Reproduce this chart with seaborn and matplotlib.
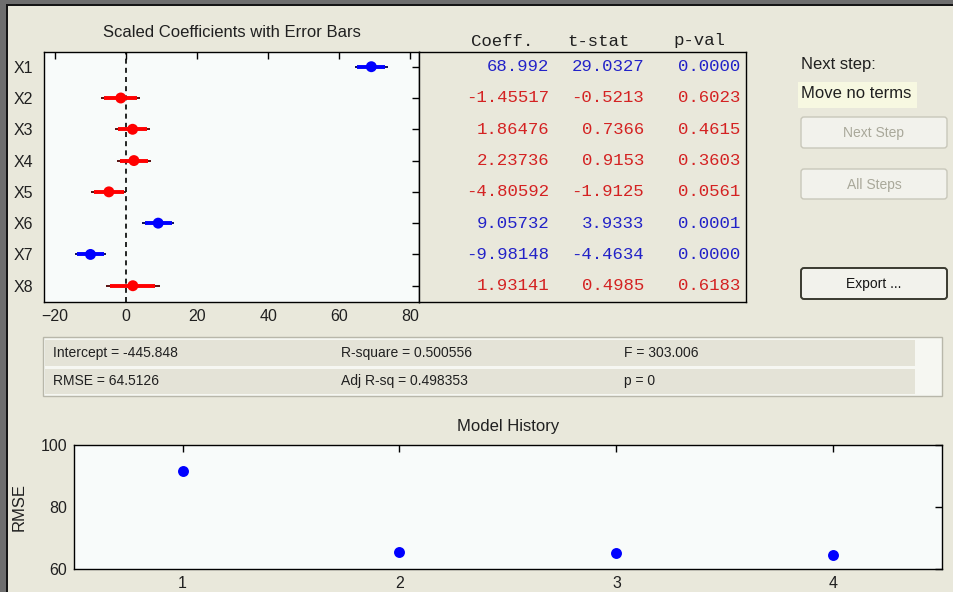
import matplotlib
matplotlib.use("Agg")
import matplotlib.pyplot as plt
import seaborn as sns
import pandas as pd
import numpy as np
from matplotlib.patches import Rectangle, FancyBboxPatch
from matplotlib import font_manager

# ---------------- data ----------------
terms = ["X1", "X2", "X3", "X4", "X5", "X6", "X7", "X8"]
coeff = [68.992, -1.45517, 1.86476, 2.23736, -4.80592, 9.05732, -9.98148, 1.93141]
tstat = [29.0327, -0.5213, 0.7366, 0.9153, -1.9125, 3.9333, -4.4634, 0.4985]
pval = [0.0000, 0.6023, 0.4615, 0.3603, 0.0561, 0.0001, 0.0000, 0.6183]
in_model = [True, False, False, False, False, True, True, False]
ci90_half = [3.91, 4.59, 4.16, 4.02, 4.13, 3.79, 3.68, 6.37]
ci95_half = [4.66, 5.47, 4.96, 4.79, 4.93, 4.51, 4.38, 7.59]
coef_ticks = [-20, 0, 20, 40, 60, 80]

steps = [1, 2, 3, 4]
rmse_history = [91.7, 65.6, 65.3, 64.51]
rmse_ticks = [60, 80, 100]

stats_row1 = ["Intercept = -445.848", "R-square = 0.500556", "F = 303.006"]
stats_row2 = ["RMSE = 64.5126", "Adj R-sq = 0.498353", "p = 0"]
headers = ["Coeff.", "t-stat", "p-val"]

# ---------------- style ----------------
sns.set_theme(style="white")
plt.rcParams["font.family"] = ["Liberation Sans", "DejaVu Sans"]
names = {f.name for f in font_manager.fontManager.ttflist}
TICKFONT = ["Liberation Sans Narrow", "Liberation Sans"] if "Liberation Sans Narrow" in names else ["Liberation Sans"]
TICKSIZE = 12.5 if "Liberation Sans Narrow" in names else 11.5

BG = "#E9E8DB"
AXBG = "#F8FBFA"
BLUE = "#0000FF"
RED = "#FF0000"
TBLUE = "#2222C8"
TRED = "#D42222"

W, H = 954, 592
fig = plt.figure(figsize=(W / 100, H / 100), dpi=100, facecolor=BG)


def rect(x0, y0, x1, y1):
    return [x0 / W, 1 - y1 / H, (x1 - x0) / W, (y1 - y0) / H]


def style_axes(a):
    for s in a.spines.values():
        s.set_color("black")
        s.set_linewidth(1.0)
        s.set_visible(True)


def style_ticks(a):
    for lab in a.get_xticklabels() + a.get_yticklabels():
        lab.set_family(TICKFONT)
        lab.set_fontsize(TICKSIZE)
        lab.set_color("#202020")


df = pd.DataFrame({
    "term": terms,
    "pos": np.arange(1, len(terms) + 1),
    "coeff": coeff,
    "status": ["In" if m else "Out" for m in in_model],
    "ci90": ci90_half,
    "ci95": ci95_half,
})

# ---------------- coefficient plot ----------------
ax = fig.add_axes(rect(44, 52, 419, 302))
ax.set_facecolor(AXBG)
style_axes(ax)
ax.axvline(0, color="black", lw=1.2, ls=(0, (3, 2.5)), zorder=1)
for _, r in df.iterrows():
    inm = r["status"] == "In"
    col = BLUE if inm else RED
    thin = "#10105A" if inm else "#5A1010"
    ax.hlines(r["pos"], r["coeff"] - r["ci95"], r["coeff"] + r["ci95"],
              color=thin, lw=1.4, zorder=2)
    ax.hlines(r["pos"], r["coeff"] - r["ci90"], r["coeff"] + r["ci90"],
              color=col, lw=2.8, zorder=3)
sns.scatterplot(data=df, x="coeff", y="pos", hue="status",
                palette={"In": BLUE, "Out": RED}, s=62, linewidth=0,
                legend=False, ax=ax, zorder=4)
ax.set_xlim(-23.05, 82.4)
ax.set_ylim(8.52, 0.53)
ax.set_yticks(df["pos"], terms)
ax.set_xticks(coef_ticks)
ax.set_xlabel("")
ax.set_ylabel("")
ax.tick_params(direction="in", top=True, right=True, length=5, width=1,
               colors="black")
ax.tick_params(axis="y", pad=8)
ax.tick_params(axis="x", pad=5)
style_ticks(ax)
ax.set_title("Scaled Coefficients with Error Bars", fontsize=12, pad=11,
             color="#202020")

# ---------------- table ----------------
tax = fig.add_axes(rect(419, 52, 746, 302))
tax.set_facecolor(BG)
style_axes(tax)
tax.set_xlim(419, 746)
tax.set_ylim(8.52, 0.53)
tax.set_xticks([])
tax.set_yticks([])
mono = ["Liberation Mono", "DejaVu Sans Mono"]
for i, p in enumerate(df["pos"]):
    col = TBLUE if in_model[i] else TRED
    tax.text(549, p, "{:.6g}".format(coeff[i]), ha="right", va="center",
             family=mono, fontsize=12.5, color=col)
    tax.text(644, p, "{:.4f}".format(tstat[i]), ha="right", va="center",
             family=mono, fontsize=12.5, color=col)
    tax.text(740, p, "{:.4f}".format(pval[i]), ha="right", va="center",
             family=mono, fontsize=12.5, color=col)

# ---------------- overlay (UI elements, pixel coords) ----------------
ov = fig.add_axes([0, 0, 1, 1], zorder=10)
ov.set_xlim(0, W)
ov.set_ylim(H, 0)
ov.axis("off")
ov.patch.set_alpha(0)

# outer window border (left and top)
ov.add_patch(Rectangle((0, 0), 6, H, fc="#6E6E6E", ec="none"))
ov.add_patch(Rectangle((6, 4), 2, H, fc="#151515", ec="none"))
ov.add_patch(Rectangle((0, 0), W, 4, fc="#6E6E6E", ec="none"))
ov.add_patch(Rectangle((6, 4), W - 6, 2, fc="#151515", ec="none"))

# table headers
for hx, htxt in zip([502, 599, 699], headers):
    ov.text(hx, 41, htxt, ha="center", va="center", family=mono,
            fontsize=12.5, color="#202020")

# right panel
ov.text(801, 64, "Next step:", ha="left", va="center", fontsize=12,
        color="#202020")
ov.add_patch(Rectangle((798, 82), 119, 26, fc="#F7F8E1", ec="none"))
ov.text(801, 93, "Move no terms", ha="left", va="center", fontsize=12,
        color="#202020")
for (y0, y1, label, ec, tc, lw) in [
        (117, 148, "Next Step", "#C8C7BA", "#A9A89A", 1.0),
        (169, 199, "All Steps", "#C8C7BA", "#A9A89A", 1.0),
        (268, 299, "Export ...", "#3A3A30", "#151515", 1.4)]:
    ov.add_patch(FancyBboxPatch((801, y0), 146, y1 - y0,
                                boxstyle="round,pad=0,rounding_size=3",
                                fc="#F2F2EC", ec=ec, lw=lw))
    ov.text(874, (y0 + y1) / 2 + 0.5, label, ha="center", va="center",
            fontsize=10, color=tc)

# stats panel
ov.add_patch(Rectangle((43, 337), 899, 59, fc="#F6F7F2", ec="#B8B7AA", lw=1.0))
ov.add_patch(Rectangle((45, 340), 870, 26, fc="#E4E3D7", ec="none"))
ov.add_patch(Rectangle((45, 369), 870, 25, fc="#E4E3D7", ec="none"))
for x, t1, t2 in zip([53, 341, 624], stats_row1, stats_row2):
    ov.text(x, 353, t1, ha="left", va="center", fontsize=10, color="#202020")
    ov.text(x, 381, t2, ha="left", va="center", fontsize=10, color="#202020")

# ---------------- model history ----------------
bx = fig.add_axes(rect(74, 445, 942, 569))
bx.set_facecolor(AXBG)
style_axes(bx)
sns.scatterplot(x=steps, y=rmse_history, color=BLUE, s=62, linewidth=0,
                ax=bx, zorder=4)
bx.set_xlim(0.5, 4.5)
bx.set_ylim(60, 100)
bx.set_xticks(steps)
bx.set_yticks(rmse_ticks)
bx.tick_params(direction="in", top=True, right=True, length=5, width=1,
               colors="black")
bx.tick_params(axis="y", pad=5)
bx.tick_params(axis="x", pad=5)
style_ticks(bx)
bx.set_ylabel("RMSE", fontsize=12, labelpad=10, color="#202020")
bx.set_title("Model History", fontsize=12, pad=10, color="#202020")

fig.savefig("out.png", dpi=100, facecolor=BG)
